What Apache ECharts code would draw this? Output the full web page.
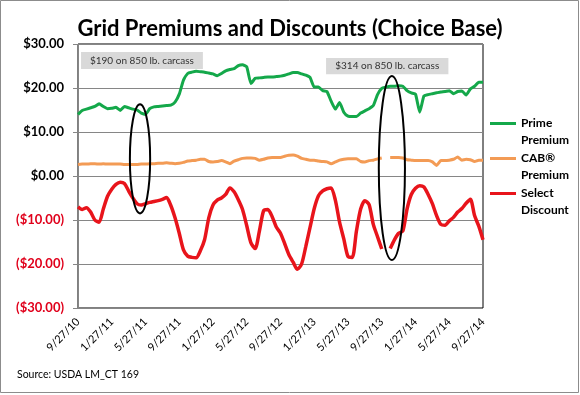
<!DOCTYPE html>
<html><head><meta charset="utf-8">
<script src="https://cdn.jsdelivr.net/npm/echarts@6/dist/echarts.min.js"></script>
<style>html,body{margin:0;padding:0;background:#fff}#c{width:580px;height:395px}</style>
</head><body><div id="c"></div>
<script>
// Semi-monthly sample dates (categories)
const dates = ('9/27/10,10/12/10,10/27/10,11/12/10,11/27/10,12/12/10,12/27/10,1/12/11,1/27/11,2/12/11,2/27/11,3/12/11,3/27/11,4/12/11,4/27/11,5/12/11,5/27/11,6/12/11,6/27/11,7/12/11,7/27/11,8/12/11,8/27/11,9/12/11,' +
  '9/27/11,10/12/11,10/27/11,11/12/11,11/27/11,12/12/11,12/27/11,1/12/12,1/27/12,2/12/12,2/27/12,3/12/12,3/27/12,4/12/12,4/27/12,5/12/12,5/27/12,6/12/12,6/27/12,7/12/12,7/27/12,8/12/12,8/27/12,9/12/12,' +
  '9/27/12,10/12/12,10/27/12,11/12/12,11/27/12,12/12/12,12/27/12,1/12/13,1/27/13,2/12/13,2/27/13,3/12/13,3/27/13,4/12/13,4/27/13,5/12/13,5/27/13,6/12/13,6/27/13,7/12/13,7/27/13,8/12/13,8/27/13,9/12/13,' +
  '9/27/13,10/12/13,10/27/13,11/12/13,11/27/13,12/12/13,12/27/13,1/12/14,1/27/14,2/12/14,2/27/14,3/12/14,3/27/14,4/12/14,4/27/14,5/12/14,5/27/14,6/12/14,6/27/14,7/12/14,7/27/14,8/12/14,8/27/14,9/12/14,9/27/14').split(',');

const prime = [14.0,14.9,15.2,15.5,15.8,16.4,15.8,15.3,15.4,15.6,
  14.9,15.8,15.5,15.2,15.0,14.3,14.0,15.3,15.7,15.8,
  15.9,16.0,16.1,16.8,18.6,21.8,23.3,23.6,23.8,23.7,
  23.6,23.4,23.2,22.8,23.3,23.9,24.2,24.4,25.1,25.3,
  24.8,21.0,22.2,22.3,22.4,22.5,22.5,22.6,22.7,22.9,
  23.2,23.5,23.5,23.2,22.9,22.4,20.2,20.2,19.4,19.2,
  17.0,15.2,16.7,14.5,13.6,13.5,13.5,14.3,14.8,15.3,
  16.0,18.5,19.9,20.2,20.4,20.4,20.5,20.4,19.4,18.9,
  18.6,14.5,18.2,18.5,18.7,18.9,19.1,19.2,19.4,18.7,
  19.2,19.3,18.4,19.8,20.4,21.3,21.3];

const cab = [2.6,2.7,2.7,2.8,2.8,2.7,2.8,2.7,2.7,2.7,
  2.7,2.6,2.6,2.6,2.6,2.7,2.7,2.8,2.8,2.9,
  2.9,3.0,2.9,2.8,2.9,3.1,3.4,3.5,3.6,3.8,
  3.8,3.3,3.2,3.3,3.5,3.2,2.8,3.4,3.7,4.0,
  4.1,4.1,4.0,3.6,3.8,4.1,4.2,4.2,4.2,4.5,
  4.7,4.8,4.5,4.0,3.8,3.6,3.6,3.4,3.3,3.2,
  2.8,3.2,3.6,3.8,3.9,3.9,3.9,3.3,3.2,3.5,
  3.6,3.9,4.1,null,4.2,4.2,4.2,4.1,3.7,3.6,
  3.5,3.5,3.5,3.5,3.2,2.4,3.5,3.5,3.6,3.8,
  4.3,3.6,3.8,3.7,3.3,3.6,3.6];

const select = [-7.0,-7.6,-7.2,-8.2,-10.0,-10.5,-7.5,-4.6,-3.0,-1.9,
  -1.4,-1.7,-3.4,-5.0,-6.3,-6.6,-6.3,-6.0,-5.8,-5.6,
  -5.3,-4.9,-6.7,-9.5,-13.0,-16.8,-18.2,-18.5,-18.6,-17.0,
  -14.5,-9.5,-6.6,-5.5,-5.0,-4.2,-2.7,-3.6,-5.4,-7.6,
  -11.3,-15.2,-16.5,-12.5,-7.9,-7.6,-9.2,-11.6,-13.0,-15.4,
  -17.9,-19.6,-21.2,-20.0,-16.0,-11.7,-7.4,-4.5,-3.4,-2.9,
  -2.7,-5.5,-10.5,-14.3,-18.3,-18.5,-12.5,-7.5,-5.6,-6.5,
  -11.0,-13.8,-16.6,null,-16.5,-14.5,-13.0,-12.5,-7.5,-4.2,
  -2.8,-2.2,-2.5,-4.2,-6.3,-9.0,-11.0,-11.2,-10.2,-9.4,
  -8.2,-7.4,-6.2,-5.3,-9.0,-11.4,-14.5];

const seriesNames = ['Prime Premium', 'CAB\u00AE Premium', 'Select Discount'];
const legendLabels = {'Prime Premium': '\nPrime\nPremium', 'CAB\u00AE Premium': '\nCAB\u00AE\nPremium', 'Select Discount': '\nSelect\nDiscount'};
const titleText = 'Grid Premiums and Discounts (Choice Base)';
const sourceText = 'Source: USDA LM_CT 169';

// annotations in data units (months from start, dollars)
const noteBoxes = [
  {text: '$190 on 850 lb. carcass', m0: 0.36, m1: 14.8, vTop: 28.2, vBot: 24.3},
  {text: '$314 on 850 lb. carcass', m0: 29.4, m1: 43.9, vTop: 26.8, vBot: 23.1}
];
const noteEllipses = [
  {m: 7.35, v: 3.9, rm: 1.2, rv: 12.4},
  {m: 37.2, v: 1.8, rm: 1.55, rv: 20.9}
];

const FONT = 'Lato, "Open Sans", sans-serif';
const chart = echarts.init(document.getElementById('c'), null, {renderer: 'canvas'});

function fmtY(v) {
  if (v < 0) return '{neg|($' + Math.abs(v).toFixed(2) + ')}';
  return '{pos|$' + v.toFixed(2) + '}';
}

chart.setOption({
  animation: false,
  backgroundColor: '#fff',
  title: [
    {text: titleText, left: 'center', top: 11,
     textStyle: {fontFamily: FONT, fontSize: 22, fontWeight: 'bold', color: '#000', lineHeight: 26}},
    {text: sourceText, left: 12, top: 363,
     textStyle: {fontFamily: FONT, fontSize: 10.5, fontWeight: 'normal', color: '#000', lineHeight: 13}}
  ],
  grid: {left: 78, right: 97, top: 44, bottom: 87, show: true, borderColor: '#000', borderWidth: 1, backgroundColor: 'transparent'},
  legend: {
    orient: 'vertical', left: 490, top: 98, padding: 0,
    itemWidth: 26, itemHeight: 3, itemGap: -16, icon: 'rect',
    data: seriesNames,
    formatter: n => legendLabels[n],
    textStyle: {fontFamily: FONT, fontSize: 12, fontWeight: 'bold', color: '#000', lineHeight: 17}
  },
  xAxis: {
    type: 'category', data: dates, boundaryGap: false,
    axisLine: {show: false}, axisTick: {show: false}, splitLine: {show: false},
    axisLabel: {interval: 7, rotate: 45, margin: 12, fontFamily: FONT, fontSize: 11, color: '#000'}
  },
  yAxis: {
    type: 'value', min: -30, max: 30, interval: 10,
    axisLine: {show: true, lineStyle: {color: '#868686'}},
    axisTick: {show: true, length: 5, lineStyle: {color: '#868686'}},
    splitLine: {lineStyle: {color: '#868686', width: 1}},
    axisLabel: {
      margin: 14, formatter: fmtY,
      rich: {
        pos: {fontFamily: FONT, fontSize: 13, fontWeight: 'bold', color: '#000'},
        neg: {fontFamily: FONT, fontSize: 13, fontWeight: 'bold', color: '#e0001b'}
      }
    }
  },
  series: [
    {name: seriesNames[0], type: 'line', data: prime, showSymbol: false, smooth: 0.15, color: '#14a84a', lineStyle: {width: 3, color: '#14a84a'}},
    {name: seriesNames[1], type: 'line', data: cab, showSymbol: false, smooth: 0.15, color: '#f39b55', lineStyle: {width: 3, color: '#f39b55'}},
    {name: seriesNames[2], type: 'line', data: select, showSymbol: false, smooth: 0.25, color: '#e8141b', lineStyle: {width: 3.5, color: '#e8141b'}}
  ]
});

// position annotations from data coordinates
const pA = chart.convertToPixel({gridIndex: 0}, [0, 0]);
const pB = chart.convertToPixel({gridIndex: 0}, [dates.length - 1, 10]);
const xOf = m => pA[0] + (m / 48) * (pB[0] - pA[0]);
const yOf = v => pA[1] + (v / 10) * (pB[1] - pA[1]);
const els = [];
noteBoxes.forEach(b => {
  const x0 = xOf(b.m0), x1 = xOf(b.m1), y0 = yOf(b.vTop), y1 = yOf(b.vBot);
  els.push({type: 'rect', z: 100, shape: {x: x0, y: y0, width: x1 - x0, height: y1 - y0}, style: {fill: '#d9d9d9'}});
  els.push({type: 'text', z: 101, x: (x0 + x1) / 2, y: (y0 + y1) / 2,
    style: {text: b.text, fill: '#333', font: '10px ' + FONT, align: 'center', verticalAlign: 'middle'}});
});
noteEllipses.forEach(e => {
  const cx = xOf(e.m), cy = yOf(e.v);
  const rx = Math.abs(xOf(e.m + e.rm) - cx), ry = Math.abs(yOf(e.v + e.rv) - cy);
  els.push({type: 'ellipse', z: 100, shape: {cx: cx, cy: cy, rx: rx, ry: ry}, style: {fill: 'none', stroke: '#000', lineWidth: 2}});
});
els.push({type: 'rect', z: 100, shape: {x: 0.5, y: 0.5, width: 578, height: 392}, style: {fill: 'none', stroke: '#8c8c8c', lineWidth: 1}});
chart.setOption({graphic: els});
</script>
</body></html>
